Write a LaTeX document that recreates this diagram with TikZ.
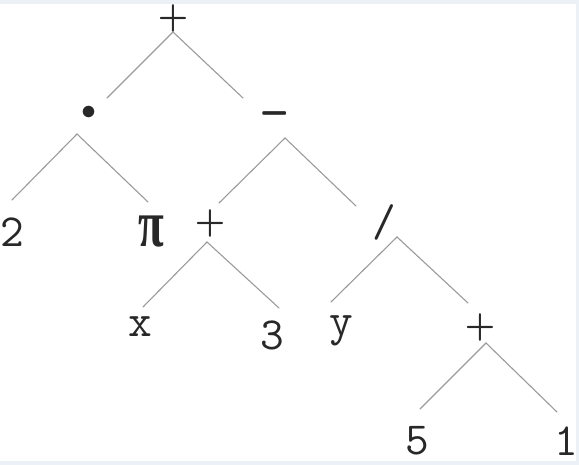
\documentclass[tikz,border=0pt]{standalone}
\usepackage{fontspec}
\newfontfamily\pifont{Liberation Serif}
\definecolor{edgegray}{RGB}{155,155,155}
\definecolor{textdark}{RGB}{40,40,40}
\definecolor{bgblue}{RGB}{236,241,248}
\tikzset{
  lbl/.style={inner sep=0pt, outer sep=0pt, anchor=center, text=textdark,
    font=\ttfamily\fontsize{46}{48}\selectfont},
  symlbl/.style={lbl, font=\fontsize{10}{12}\selectfont},
  branch/.style={draw=edgegray, line width=1.1pt, line cap=round}
}
\newcommand{\bigplus}{\scalebox{3.4}[3.6]{\boldmath$+$}}
\begin{document}
\begin{tikzpicture}[x=1pt,y=-1pt]
\fill[bgblue] (0,0) rectangle (579,465);
\fill[white] (0,4) rectangle (576,461);
\useasboundingbox (0,0) rectangle (579,465);
% operators
\node[symlbl] (T) at (173,19) {\bigplus};
\node[symlbl] (D) at (89,113) {\scalebox{3}{$\bullet$}};
\node[symlbl] (M) at (275,114) {\scalebox{3.4}[6]{\boldmath$-$}};
\node[symlbl] (P2) at (210,224) {\bigplus};
\node[lbl] (S) at (384,222) {/};
\node[symlbl] (P3) at (480,328) {\bigplus};
% leaves
\node[lbl] (L2) at (12,232) {2};
\node[lbl, font=\pifont\bfseries\fontsize{46}{48}\selectfont] (Lpi) at (151,232) {\scalebox{1.02}[1.45]{π}};
\node[lbl] (Lx) at (140,327) {x};
\node[lbl] (L3) at (272,335) {3};
\node[lbl] (Ly) at (341,331) {y};
\node[lbl] (L5) at (417,441) {5};
\node[lbl] (L1) at (566,441) {1};
% branch apexes and ends
\coordinate (Ta) at (173,32);  \coordinate (Tl) at (107,98);  \coordinate (Tr) at (243,98);
\coordinate (Da) at (77,134);  \coordinate (Dl) at (12,200);  \coordinate (Dr) at (148,202);
\coordinate (Ma) at (285,138); \coordinate (Ml) at (219,203); \coordinate (Mr) at (356,206);
\coordinate (P2a) at (207,242); \coordinate (P2l) at (143,307); \coordinate (P2r) at (279,308);
\coordinate (Sa) at (397,237); \coordinate (Sl) at (331,302); \coordinate (Sr) at (468,303);
\coordinate (P3a) at (486,343); \coordinate (P3l) at (420,409); \coordinate (P3r) at (557,412);
\draw[branch] (Tl) -- (Ta) -- (Tr);
\draw[branch] (Dl) -- (Da) -- (Dr);
\draw[branch] (Ml) -- (Ma) -- (Mr);
\draw[branch] (P2l) -- (P2a) -- (P2r);
\draw[branch] (Sl) -- (Sa) -- (Sr);
\draw[branch] (P3l) -- (P3a) -- (P3r);
\end{tikzpicture}
\end{document}
